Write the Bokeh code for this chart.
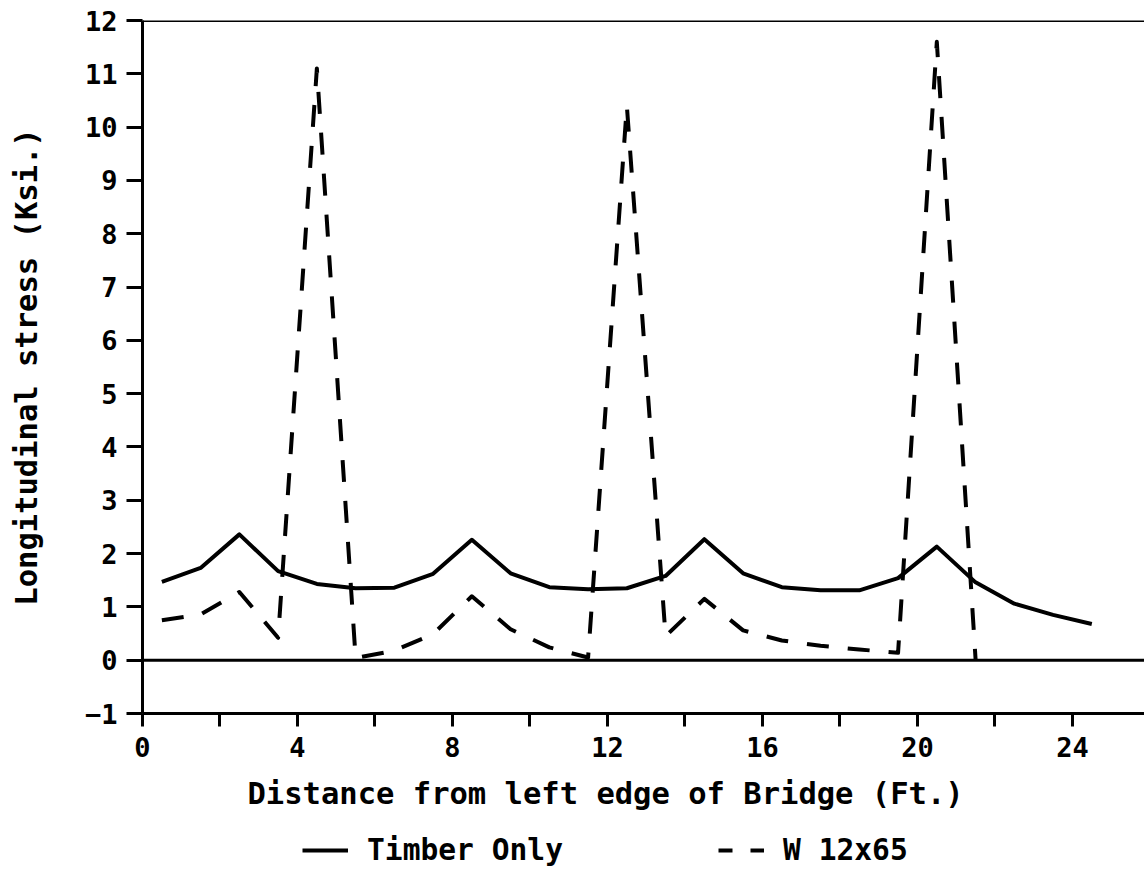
from bokeh.plotting import figure
from bokeh.layouts import column
from bokeh.models import (Range1d, FixedTicker, Span, Label, Legend, LegendItem)
from bokeh.embed import file_html
from bokeh.resources import INLINE

# ---- data ----
distance = [0.5, 1.5, 2.5, 3.5, 4.5, 5.5, 6.5, 7.5, 8.5, 9.5, 10.5, 11.5,
            12.5, 13.5, 14.5, 15.5, 16.5, 17.5, 18.5, 19.5, 20.5, 21.5,
            22.5, 23.5, 24.5]
timber_only = [1.47, 1.73, 2.36, 1.67, 1.43, 1.35, 1.36, 1.62, 2.26, 1.63,
               1.37, 1.33, 1.35, 1.58, 2.27, 1.63, 1.37, 1.31, 1.31, 1.54,
               2.13, 1.46, 1.06, 0.85, 0.68]
distance_w = [0.5, 1.5, 2.5, 3.5, 4.5, 5.5, 6.5, 7.5, 8.5, 9.5, 10.5, 11.5,
              12.5, 13.5, 14.5, 15.5, 16.5, 17.5, 18.5, 19.5, 20.5, 21.5]
w12x65 = [0.75, 0.86, 1.28, 0.42, 11.1, 0.04, 0.18, 0.49, 1.2, 0.58, 0.24,
          0.05, 10.4, 0.45, 1.15, 0.56, 0.37, 0.27, 0.2, 0.14, 11.6, 0.02]
series_names = ["Timber Only", "W 12x65"]
x_title = "Distance from left edge of Bridge (Ft.)"
y_title = "Longitudinal stress (Ksi.)"
x_ticks = [0, 4, 8, 12, 16, 20, 24]
x_minor_ticks = [2, 6, 10, 14, 18, 22, 26]
y_ticks = [-1, 0, 1, 2, 3, 4, 5, 6, 7, 8, 9, 10, 11, 12]

FONT = "DejaVu Sans Mono"
W = 1144
H1 = 773
H2 = 95

# ---------------- main chart ----------------
p = figure(width=W, height=H1, output_backend="svg", toolbar_location=None,
           x_range=Range1d(0, 25.86), y_range=Range1d(-1, 12),
           min_border_left=142, min_border_right=0, min_border_top=20,
           min_border_bottom=60)
p.outline_line_color = None
p.xgrid.visible = False
p.ygrid.visible = False
p.background_fill_color = "white"
p.border_fill_color = "white"

p.xaxis.ticker = FixedTicker(ticks=x_ticks, minor_ticks=x_minor_ticks)
p.yaxis.ticker = FixedTicker(ticks=y_ticks)
for ax in (p.xaxis[0], p.yaxis[0]):
    ax.axis_line_width = 3
    ax.axis_line_color = "black"
    ax.major_tick_line_width = 3
    ax.minor_tick_line_width = 3
    ax.major_tick_line_color = "black"
    ax.minor_tick_line_color = "black"
    ax.major_tick_in = 0
    ax.minor_tick_in = 0
    ax.major_label_text_font = FONT
    ax.major_label_text_font_style = "bold"
    ax.major_label_text_color = "black"
    ax.major_label_text_font_size = "27px"
    ax.axis_label_text_font = FONT
    ax.axis_label_text_font_style = "bold"
    ax.axis_label_text_color = "black"
    ax.axis_label_text_font_size = "30.5px"
p.xaxis.major_tick_out = 13
p.xaxis.minor_tick_out = 13
p.xaxis.major_label_standoff = 10
p.yaxis.major_tick_out = 16
p.yaxis.minor_tick_out = 0
p.yaxis.major_label_standoff = 9
p.yaxis.axis_label = y_title
p.yaxis.axis_label_standoff = 38

p.add_layout(Span(location=12, dimension="width", line_color="black", line_width=3))
p.add_layout(Span(location=0, dimension="width", line_color="black", line_width=3))

p.line(distance, timber_only, line_color="black", line_width=4, line_join="round")
p.line(distance_w, w12x65, line_color="black", line_width=4,
       line_dash="22 19", line_join="round")

# ---------------- caption strip: x title + legend ----------------
# (its frame is aligned with the main frame by the column layout)
p2 = figure(width=W, height=H2, output_backend="svg", toolbar_location=None,
            x_range=Range1d(0, 1), y_range=Range1d(0, 1),
            x_axis_location=None, y_axis_location=None,
            min_border=0, min_border_left=0, min_border_right=0,
            min_border_top=0, min_border_bottom=0)
p2.outline_line_color = None
p2.xgrid.visible = False
p2.ygrid.visible = False
p2.background_fill_color = "white"
p2.border_fill_color = "white"

p2.add_layout(Label(x=105, y=75, x_units="screen", y_units="screen",
                    text=x_title, text_font=FONT,
                    text_font_style="bold", text_font_size="30.5px",
                    text_align="left", text_baseline="alphabetic",
                    text_color="black"))

# legend keys: same series, hidden in this strip (only their legend keys show)
k1 = p2.line(distance, timber_only, line_color="black", line_width=4)
k2 = p2.line(distance_w, w12x65, line_color="black", line_width=4,
             line_dash="14 18")
k1.visible = False
k2.visible = False
legend = Legend(items=[LegendItem(label=series_names[0], renderers=[k1]),
                       LegendItem(label=series_names[1], renderers=[k2])],
                orientation="horizontal", location=(160, 1),
                glyph_width=46, glyph_height=30, label_standoff=19, spacing=155,
                label_width=196, label_height=30,
                padding=0, margin=0, border_line_color=None,
                background_fill_alpha=0, inactive_fill_alpha=0,
                label_text_font=FONT, label_text_font_style="bold",
                label_text_font_size="29.6px", label_text_color="black")
p2.add_layout(legend)

layout = column(p, p2, spacing=0)
open("out.html", "w").write(file_html(layout, INLINE))
